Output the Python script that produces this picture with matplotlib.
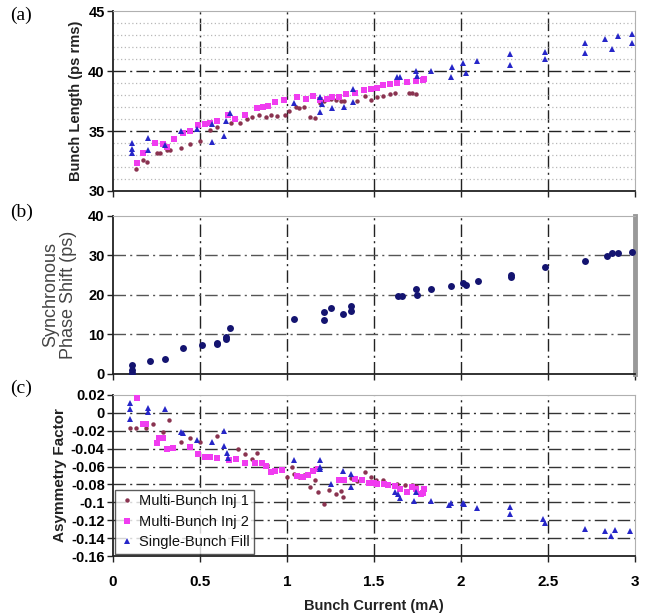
import numpy as np
import matplotlib
matplotlib.use('Agg')
import matplotlib.pyplot as plt

plt.rcParams['font.family'] = ['Liberation Sans', 'DejaVu Sans']

# (a) bunch length
a_inj1_x = [0.13, 0.17, 0.195, 0.25, 0.27, 0.31, 0.33, 0.39, 0.44, 0.50, 0.56, 0.60, 0.68, 0.73, 0.77,
            0.80, 0.84, 0.88, 0.91, 0.94, 0.99, 1.01, 1.05, 1.07, 1.10, 1.13, 1.16, 1.19, 1.21, 1.25,
            1.28, 1.31, 1.33, 1.40, 1.45, 1.48, 1.52, 1.55, 1.59, 1.62, 1.70, 1.72, 1.74]
a_inj1_y = [31.8, 32.6, 32.4, 33.2, 33.2, 33.4, 33.4, 33.6, 33.9, 34.2, 35.1, 35.3, 35.7, 35.7, 36.0,
            36.2, 36.3, 36.2, 36.3, 36.25, 36.3, 36.7, 37.0, 36.9, 37.0, 36.2, 36.1, 37.3, 37.5, 37.7,
            37.6, 37.5, 37.5, 37.5, 37.9, 37.6, 37.8, 37.9, 38.1, 38.2, 38.2, 38.2, 38.1]
a_inj2_x = [0.14, 0.17, 0.24, 0.29, 0.31, 0.35, 0.40, 0.44, 0.49, 0.53, 0.56, 0.60, 0.66, 0.70, 0.76,
            0.83, 0.86, 0.89, 0.93, 0.98, 1.06, 1.11, 1.15, 1.19, 1.23, 1.26, 1.30, 1.34, 1.39, 1.44,
            1.48, 1.52, 1.55, 1.59, 1.63, 1.69, 1.74, 1.78, 1.79]
a_inj2_y = [32.3, 33.2, 34.0, 33.9, 33.7, 34.3, 34.8, 35.0, 35.5, 35.6, 35.7, 35.8, 36.3, 36.0, 36.3,
            36.9, 37.0, 37.1, 37.4, 37.6, 37.8, 37.7, 37.9, 37.6, 37.7, 37.8, 37.8, 38.1, 38.2, 38.4,
            38.5, 38.6, 38.8, 38.9, 39.0, 39.1, 39.2, 39.25, 39.3]
a_single_x = [0.11, 0.11, 0.11, 0.20, 0.20, 0.30, 0.39, 0.48, 0.57, 0.57, 0.64, 0.65, 0.67, 1.04,
              1.19, 1.19, 1.20, 1.26, 1.33, 1.38, 1.38, 1.63, 1.65, 1.74, 1.75, 1.83, 1.94, 1.95,
              2.01, 2.03, 2.09, 2.28, 2.28, 2.48, 2.48, 2.71, 2.71, 2.83, 2.87, 2.90, 2.98, 2.98]
a_single_y = [34.0, 33.5, 33.2, 34.4, 33.4, 33.8, 35.0, 35.2, 34.1, 35.6, 34.6, 35.8, 36.5, 37.3,
              37.8, 36.6, 37.25, 36.9, 37.0, 38.5, 37.4, 39.5, 39.5, 40.0, 39.6, 40.0, 39.5, 40.3,
              40.7, 39.8, 40.8, 41.4, 40.5, 41.6, 41.0, 42.3, 41.5, 42.7, 41.8, 42.9, 43.1, 42.3]

# (b) synchronous phase shift
b_x = [0.11, 0.11, 0.11, 0.21, 0.30, 0.40, 0.51, 0.60, 0.60, 0.65, 0.65, 0.67, 1.04, 1.21, 1.21,
       1.25, 1.32, 1.37, 1.37, 1.64, 1.66, 1.74, 1.75, 1.83, 1.94, 2.01, 2.03, 2.10, 2.29, 2.29,
       2.48, 2.71, 2.84, 2.87, 2.90, 2.98]
b_y = [2.2, 1.0, 0.3, 3.3, 3.9, 6.6, 7.3, 7.8, 7.5, 8.9, 9.4, 11.7, 13.9, 15.6, 13.6,
       16.8, 15.2, 17.1, 16.0, 19.7, 19.7, 21.5, 20.0, 21.5, 22.3, 23.0, 22.5, 23.5, 25.0, 24.6,
       27.1, 28.6, 29.9, 30.6, 30.6, 30.8]

# (c) asymmetry factor
c_inj1_x = [0.10, 0.13, 0.19, 0.23, 0.29, 0.32, 0.39, 0.44, 0.50, 0.60, 0.72, 0.76, 0.80, 0.83,
            0.885, 1.00, 1.03, 1.04, 1.07, 1.10, 1.13, 1.16, 1.18, 1.21, 1.24, 1.28, 1.31, 1.32,
            1.37, 1.40, 1.45, 1.48, 1.51, 1.55, 1.63, 1.68, 1.72, 1.74]
c_inj1_y = [-0.017, -0.017, -0.017, -0.012, -0.021, -0.008, -0.033, -0.028, -0.033, -0.026,
            -0.040, -0.046, -0.052, -0.045, -0.058, -0.072, -0.061, -0.068, -0.072, -0.069,
            -0.083, -0.075, -0.088, -0.102, -0.086, -0.091, -0.087, -0.094, -0.073, -0.076,
            -0.066, -0.072, -0.075, -0.075, -0.080, -0.081, -0.081, -0.082]
c_inj2_x = [0.14, 0.17, 0.19, 0.25, 0.265, 0.29, 0.31, 0.345, 0.44, 0.49, 0.53, 0.555, 0.60,
            0.665, 0.705, 0.76, 0.815, 0.855, 0.88, 0.91, 0.93, 0.97, 1.06, 1.09, 1.12, 1.15,
            1.18, 1.30, 1.33, 1.39, 1.43, 1.47, 1.50, 1.52, 1.56, 1.58, 1.62, 1.65, 1.69, 1.72,
            1.74, 1.77, 1.78, 1.79]
c_inj2_y = [0.017, -0.012, -0.013, -0.034, -0.028, -0.028, -0.040, -0.039, -0.038, -0.046,
            -0.049, -0.049, -0.050, -0.053, -0.052, -0.056, -0.056, -0.056, -0.059, -0.066,
            -0.065, -0.064, -0.071, -0.072, -0.070, -0.065, -0.063, -0.075, -0.075, -0.074,
            -0.075, -0.078, -0.078, -0.079, -0.080, -0.081, -0.082, -0.085, -0.089, -0.083,
            -0.085, -0.091, -0.090, -0.085]
c_single_x = [0.10, 0.10, 0.10, 0.20, 0.20, 0.30, 0.39, 0.40, 0.48, 0.57, 0.64, 0.64, 0.655, 0.66,
              1.04, 1.19, 1.19, 1.19, 1.25, 1.32, 1.37, 1.37, 1.62, 1.64, 1.65, 1.73, 1.74, 1.83,
              1.93, 1.94, 2.01, 2.02, 2.09, 2.28, 2.28, 2.47, 2.48, 2.71, 2.83, 2.86, 2.885, 2.97]
c_single_y = [0.011, 0.004, -0.007, 0.005, 0.001, 0.004, -0.021, -0.023, -0.030, -0.033, -0.020,
              -0.037, -0.045, -0.050, -0.053, -0.053, -0.061, -0.063, -0.079, -0.065, -0.068,
              -0.083, -0.089, -0.091, -0.095, -0.099, -0.089, -0.099, -0.103, -0.101, -0.101,
              -0.102, -0.106, -0.105, -0.113, -0.119, -0.123, -0.130, -0.132, -0.138, -0.131, -0.132]

labels = ['Multi-Bunch Inj 1', 'Multi-Bunch Inj 2', 'Single-Bunch Fill']
x_ticks = [0, 0.5, 1, 1.5, 2, 2.5, 3]
x_ticklabels = ['0', '0.5', '1', '1.5', '2', '2.5', '3']

c1, c2, c3, cb = '#8a3350', '#f03cf0', '#2626c8', '#141470'
dashdot = (0, (9, 3, 1.5, 3))

fig = plt.figure(figsize=(6.51, 6.16), dpi=100)
ax_a = fig.add_axes([0.1736, 0.690, 0.8018, 0.292])
ax_b = fig.add_axes([0.1736, 0.393, 0.8018, 0.2565])
ax_c = fig.add_axes([0.1736, 0.0974, 0.8018, 0.2614])


def style(ax):
    ax.set_xlim(0, 3)
    ax.set_xticks(x_ticks)
    for x in x_ticks[1:-1]:
        ax.axvline(x, color='#222222', lw=1.0, ls=dashdot, zorder=1)
    for s in ['top', 'right']:
        ax.spines[s].set_color('#b0b0b0')
    for s in ['left', 'bottom']:
        ax.spines[s].set_color('#222222')
        ax.spines[s].set_linewidth(1.3)
    ax.tick_params(axis='both', direction='out', length=4, width=1, color='#222222',
                   labelsize=10.5, pad=2)


# panel (a)
style(ax_a)
ax_a.set_ylim(30, 45)
ax_a.set_yticks([30, 35, 40, 45])
for y in range(31, 45):
    if y % 5:
        ax_a.axhline(y, color='#b8b8b8', lw=0.9, ls=(0, (1, 2)), zorder=1)
for y in [35, 40]:
    ax_a.axhline(y, color='#222222', lw=1.0, ls=dashdot, zorder=1)
ax_a.plot(a_inj1_x, a_inj1_y, 'o', color=c1, ms=3.2, mew=0, zorder=3)
ax_a.plot(a_inj2_x, a_inj2_y, 's', color=c2, ms=4, mew=0, zorder=3)
ax_a.plot(a_single_x, a_single_y, '^', color=c3, ms=4.5, mew=0, zorder=4)
ax_a.set_xticklabels([])
ax_a.set_ylabel('Bunch Length (ps rms)', fontsize=10.5, fontweight='bold', color='#222222', labelpad=4)
for t in ax_a.get_yticklabels():
    t.set_fontweight('bold')

# panel (b)
style(ax_b)
ax_b.set_ylim(0, 40)
ax_b.set_yticks([0, 10, 20, 30, 40])
for y in [10, 20, 30]:
    ax_b.axhline(y, color='#555555', lw=1.0, ls=dashdot, zorder=1)
ax_b.spines['right'].set_color('#999999')
ax_b.spines['right'].set_linewidth(3.5)
ax_b.plot(b_x, b_y, 'o', color=cb, ms=5, mew=0, zorder=3)
ax_b.set_xticklabels([])
ax_b.set_ylabel('Synchronous\nPhase Shift (ps)', fontsize=13, color='#444444', labelpad=8,
                linespacing=1.05)
for t in ax_b.get_yticklabels():
    t.set_fontweight('bold')

# panel (c)
style(ax_c)
ax_c.set_ylim(-0.16, 0.02)
c_yticks = [0.02, 0, -0.02, -0.04, -0.06, -0.08, -0.1, -0.12, -0.14, -0.16]
ax_c.set_yticks(c_yticks)
ax_c.set_yticklabels(['0.02', '0', '-0.02', '-0.04', '-0.06', '-0.08', '-0.1', '-0.12', '-0.14', '-0.16'])
for y in c_yticks[1:-1]:
    ax_c.axhline(y, color='#333333', lw=1.0, ls=dashdot, zorder=1)
ax_c.plot(c_inj1_x, c_inj1_y, 'o', color=c1, ms=3.2, mew=0, zorder=3, label=labels[0])
ax_c.plot(c_inj2_x, c_inj2_y, 's', color=c2, ms=4, mew=0, zorder=3, label=labels[1])
ax_c.plot(c_single_x, c_single_y, '^', color=c3, ms=4.5, mew=0, zorder=4, label=labels[2])
ax_c.set_xticklabels(x_ticklabels, fontweight='bold', fontsize=11)
ax_c.tick_params(axis='x', pad=10)
ax_c.set_ylabel('Asymmetry Factor', fontsize=11, fontweight='bold', color='#222222', labelpad=3)
ax_c.set_xlabel('Bunch Current (mA)', fontsize=10.5, fontweight='bold', color='#222222', labelpad=7)
for t in ax_c.get_yticklabels():
    t.set_fontweight('bold')
leg = ax_c.legend(loc='lower left', fontsize=10.5, frameon=True, fancybox=False,
                  borderaxespad=0.15, handletextpad=0.3, handlelength=1.0,
                  borderpad=0.3, labelspacing=0.45)
leg.get_frame().set_edgecolor('#333333')
leg.get_frame().set_linewidth(1.0)
for t in leg.get_texts():
    t.set_color('#111111')

# panel letters
for lab, yy in [('(a)', 0.975), ('(b)', 0.655), ('(c)', 0.37)]:
    fig.text(0.015, yy, lab, family='Liberation Serif', fontsize=14, va='center', ha='left')

fig.savefig('out.png', dpi=100)
